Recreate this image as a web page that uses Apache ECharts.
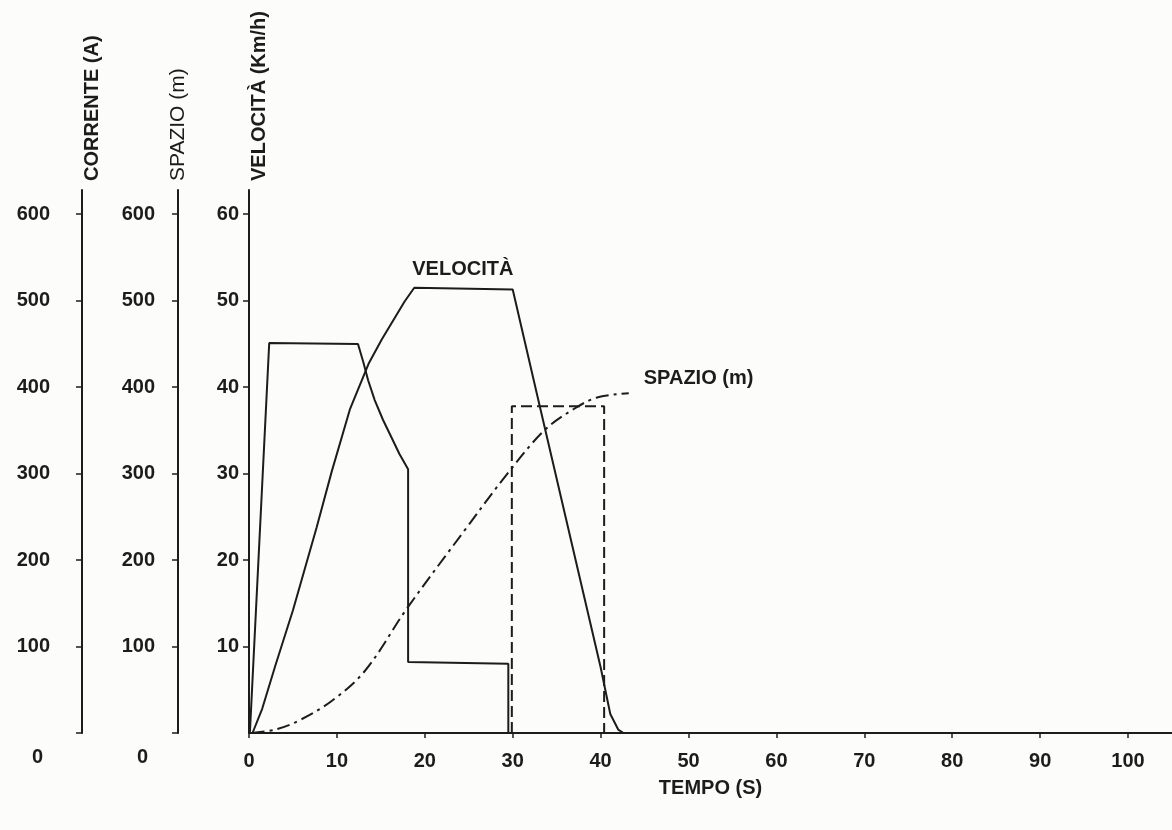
<!DOCTYPE html>
<html>
<head>
<meta charset="utf-8">
<script src="https://cdn.jsdelivr.net/npm/echarts@6/dist/echarts.min.js"></script>
<style>
html,body{margin:0;padding:0;background:#fcfcfa;}
#c{width:1172px;height:830px;}
</style>
</head>
<body>
<div id="c"></div>
<script>
// ---- tick labels ----
const xTicks = [0, 10, 20, 30, 40, 50, 60, 70, 80, 90, 100];
const velTicks = [10, 20, 30, 40, 50, 60];
const corrTicks = [0, 100, 200, 300, 400, 500, 600];
const spazioTicks = [0, 100, 200, 300, 400, 500, 600];

// ---- series values (t in s) ----
// corrente di trazione (A)
const corrT = [0.1, 2.3, 12.4, 13.0, 13.55, 14.3, 15.25, 16.2, 17.1, 18.1, 18.1, 29.5, 29.5];
const corrA = [0, 451, 450, 429, 408, 385, 362, 342, 323, 305, 82, 80, 0];
// corrente di frenatura (A) - tratteggiata
const frenT = [29.9, 29.9, 40.4, 40.4];
const frenA = [0, 378, 378, 0];
// velocita (km/h)
const velT = [0.4, 1.5, 3.0, 5.0, 7.7, 9.4, 11.5, 13.6, 15.1, 17.7, 18.8, 30.0, 32.8, 40.0, 41.1, 42.0, 42.6];
const velV = [0, 2.8, 7.8, 14.2, 23.8, 30.2, 37.5, 42.7, 45.5, 49.9, 51.5, 51.3, 39.0, 7.6, 2.2, 0.4, 0];
// spazio (m)
const spazioT = [0.3, 3.0, 5.6, 9.4, 13.2, 17.9, 24.5, 29.4, 33.6, 37.0, 39.6, 43.2];
const spazioM = [0, 4, 14, 37, 72, 143, 234, 300, 350, 375, 388, 393];

const ink = '#1c1c1c';
const font = 'Liberation Sans, Arial, Helvetica, sans-serif';

const pairs = (a, b) => a.map((v, i) => [v, b[i]]);
const velData = pairs(velT, velV).map(p => ({ value: p }));
const topIdx = velV.indexOf(Math.max(...velV));
velData[topIdx].label = {
  show: true, position: 'top', distance: 8, align: 'left', offset: [-2, 0], opacity: 1,
  formatter: 'VELOCITÀ', fontSize: 20, fontWeight: 'bold', color: ink, fontFamily: font
};

function yAxisCfg(name, offset, maxV, ticks, margin, zeroPadRight, nameStyle) {
  return {
    type: 'value', position: 'left', offset: offset, min: 0, max: maxV,
    name: name, nameLocation: 'end', nameRotate: 90, nameGap: 9,
    nameTextStyle: Object.assign({ fontSize: 20, color: ink, fontFamily: font }, nameStyle),
    axisLine: { show: true, onZero: false, lineStyle: { color: ink, width: 2 } },
    axisTick: { show: true, inside: false, length: 6, customValues: ticks, lineStyle: { color: ink, width: 1.5 } },
    axisLabel: {
      show: true, margin: margin, customValues: ticks, fontSize: 20, fontWeight: 'bold', color: ink, fontFamily: font,
      formatter: v => (v === 0 ? '{z|0}' : String(v)),
      rich: { z: { fontSize: 20, fontWeight: 'bold', color: ink, fontFamily: font, padding: [48, zeroPadRight, 0, 0] } }
    },
    splitLine: { show: false }
  };
}

const chart = echarts.init(document.getElementById('c'), null, { renderer: 'canvas' });
chart.setOption({
  animation: false,
  backgroundColor: '#fcfcfa',
  grid: { left: 249, right: 0, top: 190, bottom: 97, containLabel: false, outerBoundsMode: 'none' },
  xAxis: {
    type: 'value', min: 0, max: 105,
    name: 'TEMPO (S)', nameLocation: 'middle', nameGap: 45,
    nameTextStyle: { fontSize: 20, fontWeight: 'bold', color: ink, fontFamily: font },
    axisLine: { show: true, onZero: false, lineStyle: { color: ink, width: 2 } },
    axisTick: { show: true, inside: false, length: 5, customValues: xTicks, lineStyle: { color: ink, width: 1.5 } },
    axisLabel: { show: true, margin: 18, customValues: xTicks, fontSize: 20, fontWeight: 'bold', color: ink, fontFamily: font },
    splitLine: { show: false }
  },
  yAxis: [
    yAxisCfg('CORRENTE (A)', 167, 628, corrTicks, 32, 7, { fontWeight: 'bold', verticalAlign: 'top' }),
    yAxisCfg('SPAZIO (m)', 71, 628, spazioTicks, 23, 7, { fontWeight: 'normal', fontSize: 21 }),
    yAxisCfg('VELOCITÀ (Km/h)', 0, 62.8, velTicks, 10, 0, { fontWeight: 'bold', verticalAlign: 'top' })
  ],
  series: [
    {
      name: 'Corrente', type: 'line', yAxisIndex: 0, data: pairs(corrT, corrA),
      showSymbol: false, symbol: 'none', lineStyle: { color: ink, width: 2 }
    },
    {
      name: 'Corrente frenatura', type: 'line', yAxisIndex: 0, data: pairs(frenT, frenA),
      showSymbol: false, symbol: 'none', lineStyle: { color: ink, width: 2, type: [11, 5] }
    },
    {
      name: 'Velocità', type: 'line', yAxisIndex: 2, data: velData,
      showSymbol: true, showAllSymbol: true, symbol: 'circle', symbolSize: 0, itemStyle: { color: ink },
      lineStyle: { color: ink, width: 2 }
    },
    {
      name: 'Spazio', type: 'line', yAxisIndex: 1, data: pairs(spazioT, spazioM),
      symbol: 'none', smooth: 0.35, lineStyle: { color: ink, width: 2, type: [13, 5, 3, 5] },
      endLabel: {
        show: true, formatter: 'SPAZIO (m)', distance: 15, offset: [0, -15],
        fontSize: 20, fontWeight: 'bold', color: ink, fontFamily: font
      }
    }
  ]
});
</script>
</body>
</html>
